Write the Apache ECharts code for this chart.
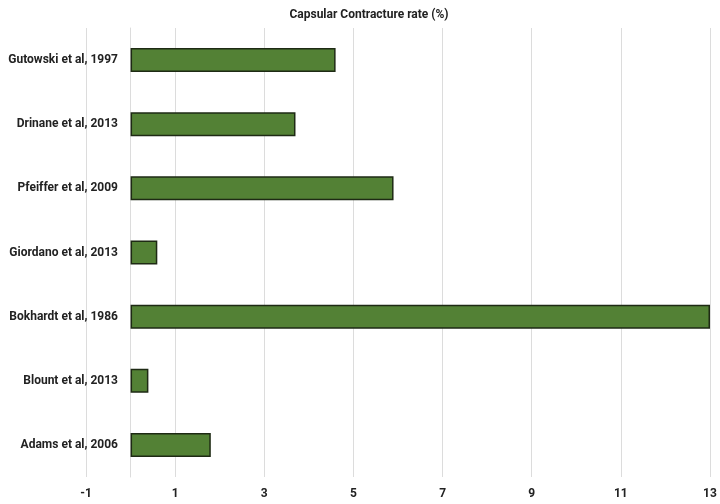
<!DOCTYPE html>
<html><head><meta charset="utf-8">
<script src="https://cdn.jsdelivr.net/npm/echarts@6/dist/echarts.min.js"></script>
<style>html,body{margin:0;padding:0;background:#fff}#c{width:720px;height:504px}</style>
</head><body><div id="c"></div>
<script>
const studies = ["Gutowski et al, 1997","Drinane et al, 2013","Pfeiffer et al, 2009","Giordano et al, 2013","Bokhardt et al, 1986","Blount et al, 2013","Adams et al, 2006"];
const rates = [4.6, 3.7, 5.9, 0.6, 13, 0.4, 1.8];
const titleText = "Capsular Contracture rate (%)";
const xMin = -1, xMax = 13, xStep = 2;

const chart = echarts.init(document.getElementById('c'), null, {renderer:'canvas'});
const fontFam = 'Roboto,sans-serif';
chart.setOption({
  animation:false,
  backgroundColor:'#fff',
  title:{text:titleText,left:364,top:4,textAlign:'center',
    textStyle:{fontFamily:fontFam,fontWeight:'bold',fontSize:12,color:'#222'}},
  grid:{left:86,right:10,top:28,bottom:27,containLabel:false,outerBoundsMode:'none'},
  xAxis:{type:'value',min:xMin,max:xMax,interval:xStep,
    axisLine:{show:false},axisTick:{show:false},
    splitLine:{show:true,lineStyle:{color:'#dcdcdc',width:1}},
    axisLabel:{margin:11,fontFamily:fontFam,fontWeight:'bold',fontSize:12,color:'#222'}},
  yAxis:{type:'category',data:studies,inverse:true,
    axisLine:{show:true,onZero:true,lineStyle:{color:'#dcdcdc',width:1}},
    axisTick:{show:false},
    axisLabel:{margin:-32,fontFamily:fontFam,fontWeight:'bold',fontSize:12,color:'#222'}},
  series:[{type:'bar',data:rates,barWidth:24,
    itemStyle:{color:'#538135',borderColor:'#1e2a14',borderWidth:1.5}}]
});
</script></body></html>
